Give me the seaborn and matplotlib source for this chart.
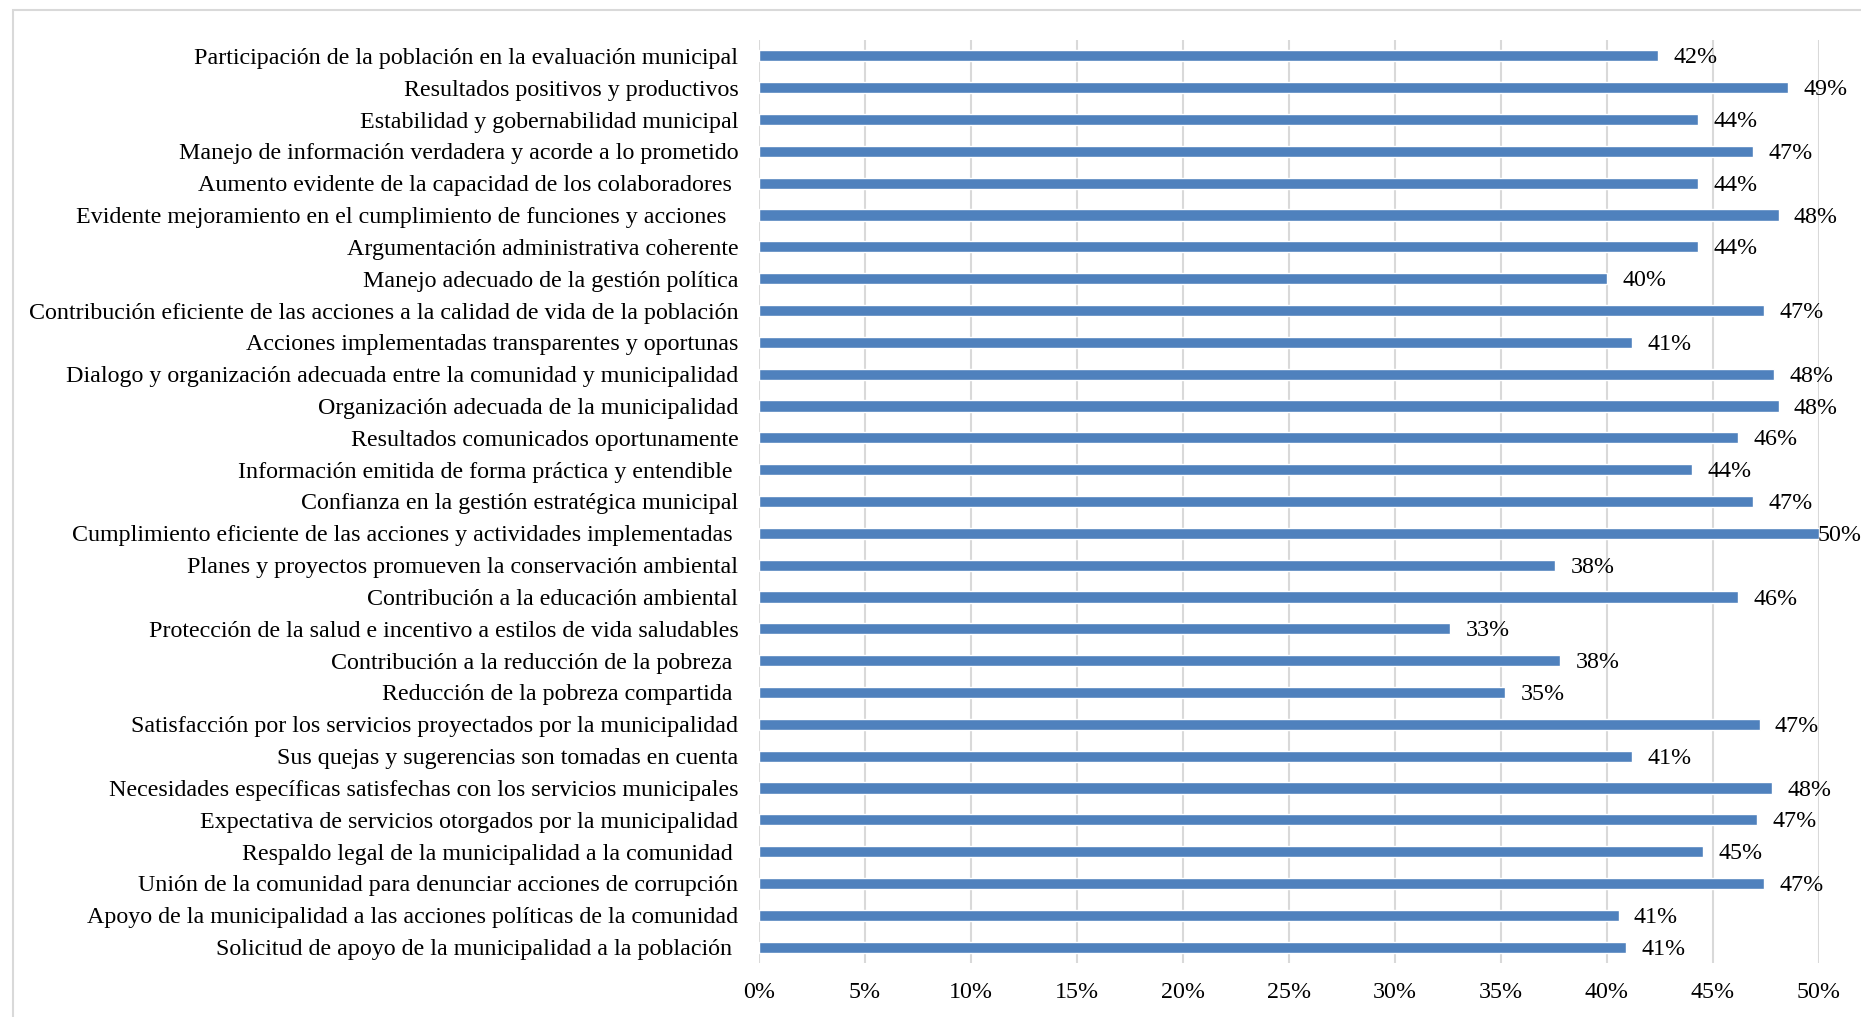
import pandas as pd
import matplotlib.pyplot as plt
import seaborn as sns
from matplotlib.patches import Rectangle

# -----------------------------
# Data
# -----------------------------
categorias = [
    "Participación de la población en la evaluación municipal",
    "Resultados positivos y productivos",
    "Estabilidad y gobernabilidad municipal",
    "Manejo de información verdadera y acorde a lo prometido",
    "Aumento evidente de la capacidad de los colaboradores ",
    "Evidente mejoramiento en el cumplimiento de funciones y acciones  ",
    "Argumentación administrativa coherente",
    "Manejo adecuado de la gestión política",
    "Contribución eficiente de las acciones a la calidad de vida de la población",
    "Acciones implementadas transparentes y oportunas",
    "Dialogo y organización adecuada entre la comunidad y municipalidad",
    "Organización adecuada de la municipalidad",
    "Resultados comunicados oportunamente",
    "Información emitida de forma práctica y entendible ",
    "Confianza en la gestión estratégica municipal",
    "Cumplimiento eficiente de las acciones y actividades implementadas ",
    "Planes y proyectos promueven la conservación ambiental",
    "Contribución a la educación ambiental",
    "Protección de la salud e incentivo a estilos de vida saludables",
    "Contribución a la reducción de la pobreza ",
    "Reducción de la pobreza compartida ",
    "Satisfacción por los servicios proyectados por la municipalidad",
    "Sus quejas y sugerencias son tomadas en cuenta",
    "Necesidades específicas satisfechas con los servicios municipales",
    "Expectativa de servicios otorgados por la municipalidad",
    "Respaldo legal de la municipalidad a la comunidad ",
    "Unión de la comunidad para denunciar acciones de corrupción",
    "Apoyo de la municipalidad a las acciones políticas de la comunidad",
    "Solicitud de apoyo de la municipalidad a la población ",
]

porcentajes = [
    42.4, 48.55, 44.3, 46.9, 44.3, 48.1, 44.3, 40.0, 47.4, 41.2,
    47.9, 48.1, 46.2, 44.0, 46.9, 50.0, 37.55, 46.2, 32.6, 37.8,
    35.2, 47.2, 41.2, 47.8, 47.1, 44.55, 47.4, 40.55, 40.9,
]

ticks = [0, 5, 10, 15, 20, 25, 30, 35, 40, 45, 50]

df = pd.DataFrame({"categoria": categorias, "valor": porcentajes})

# -----------------------------
# Style
# -----------------------------
sns.set_style("white")
plt.rcParams["font.family"] = ["Liberation Serif", "DejaVu Serif"]

fig = plt.figure(figsize=(18.61, 10.17), dpi=100)
ax = fig.add_axes([0.4079, 0.0531, 0.5695, 0.9076])

sns.barplot(
    data=df, x="valor", y="categoria", orient="h",
    color="#4F81BD", saturation=1, width=0.35, ax=ax,
)

ax.set_xlim(0, 50)
ax.set_ylim(len(categorias) - 0.5, -0.5)
ax.set_xticks(ticks)
ax.set_xticklabels([f"{t}%" for t in ticks])
ax.set_xlabel("")
ax.set_ylabel("")
ax.tick_params(axis="x", length=0, pad=14, labelsize=17.3, colors="black")
ax.tick_params(axis="y", length=0, pad=15, labelsize=17.3, colors="black")

ax.grid(axis="x", color="#D9D9D9", linewidth=1.5)
ax.set_axisbelow(True)
for s in ax.spines.values():
    s.set_visible(False)

# data labels (the one at the axis end sits right at the bar end, like Excel)
for i, v in enumerate(porcentajes):
    dx = 11 if v < 49.9 else -1
    ax.annotate(f"{v:.0f}%", xy=(v, i), xytext=(dx, -1.5),
                textcoords="offset points", va="center", ha="left",
                fontsize=17.3, color="black")

# chart area border
fig.patches.append(Rectangle((13 / 1861, -0.05), 1.1, 1 - 10 / 1017 + 0.05,
                             transform=fig.transFigure, fill=False,
                             edgecolor="#D9D9D9", linewidth=1.5))

fig.savefig("out.png", dpi=100)
